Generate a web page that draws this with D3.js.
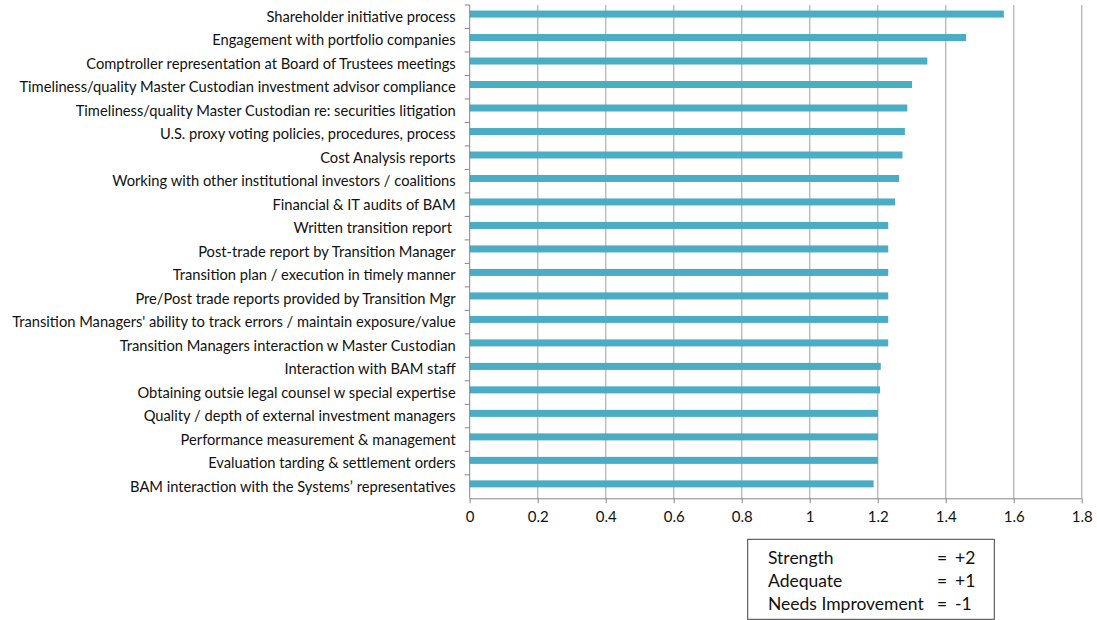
<!DOCTYPE html>
<html>
<head>
<meta charset="utf-8">
<script src="https://cdn.jsdelivr.net/npm/d3@7"></script>
<style>
  body { margin: 0; background: #fff; }
  text { font-family: Lato, "Open Sans", sans-serif; fill: #111; }
</style>
</head>
<body>
<script>
// categories top to bottom
let categories = [
  "Shareholder initiative process",
  "Engagement with portfolio companies",
  "Comptroller representation at Board of Trustees meetings",
  "Timeliness/quality Master Custodian investment advisor compliance",
  "Timeliness/quality Master Custodian re: securities litigation",
  "U.S. proxy voting policies, procedures, process",
  "Cost Analysis reports",
  "Working with other institutional investors / coalitions",
  "Financial & IT audits of BAM",
  "Written transition report ",
  "Post-trade report by Transition Manager",
  "Transition plan / execution in timely manner",
  "Pre/Post trade reports provided by Transition Mgr",
  "Transition Managers' ability to track errors / maintain exposure/value",
  "Transition Managers interaction w Master Custodian",
  "Interaction with BAM staff",
  "Obtaining outsie legal counsel w special expertise",
  "Quality / depth of external investment managers",
  "Performance measurement & management",
  "Evaluation tarding & settlement orders",
  "BAM interaction with the Systems\u2019 representatives"
];

let scores = [1.571, 1.460, 1.346, 1.301, 1.287, 1.280, 1.273, 1.263, 1.251, 1.231,
  1.231, 1.231, 1.231, 1.231, 1.231, 1.209, 1.207, 1.201, 1.201, 1.201, 1.188];

let xTicks = [0, 0.2, 0.4, 0.6, 0.8, 1, 1.2, 1.4, 1.6, 1.8];

let legendLabels = ["Strength", "Adequate", "Needs Improvement"];
let legendValues = ["+2", "+1", "-1"];

let width = 1097;
let height = 620;

let svg = d3.select("body").append("svg")
  .attr("width", width)
  .attr("height", height);

// plot area
let plotLeft = 469.7, plotRight = 1081.7, plotTop = 5, plotBottom = 498.3;

let x = d3.scaleLinear().domain([0, 1.8]).range([plotLeft, plotRight]);
let y = d3.scaleBand().domain(categories).range([plotTop, plotBottom]);

// vertical gridlines
svg.append("g")
  .selectAll("line")
  .data(xTicks.slice(1))
  .join("line")
  .attr("x1", d => x(d)).attr("x2", d => x(d))
  .attr("y1", plotTop).attr("y2", plotBottom)
  .attr("stroke", "#bdbdbd")
  .attr("stroke-width", 1.5);

// bars - excel puts them a bit above the band centre
let barH = 7;
svg.append("g")
  .selectAll("rect")
  .data(categories)
  .join("rect")
  .attr("x", x(0))
  .attr("y", d => y(d) + y.bandwidth() / 2 - 2.7 - barH / 2)
  .attr("width", (d, i) => x(scores[i]) - x(0))
  .attr("height", barH)
  .attr("fill", "#4bacc6");

// x axis
let xAxis = d3.axisBottom(x)
  .tickValues(xTicks)
  .tickSize(5)
  .tickPadding(8)
  .tickFormat(d => d3.format("")(d));
let xg = svg.append("g")
  .attr("transform", "translate(0," + plotBottom + ")")
  .call(xAxis);
xg.select(".domain").attr("stroke", "#868686").attr("d", "M" + plotLeft + ",0.5H" + plotRight);
xg.selectAll(".tick line").attr("stroke", "#868686");
xg.selectAll(".tick text").attr("font-size", 15).attr("fill", "#111")
  .attr("font-family", "Lato, sans-serif");

// y axis: line with ticks on the band boundaries
let yg = svg.append("g");
yg.append("line")
  .attr("x1", plotLeft).attr("x2", plotLeft)
  .attr("y1", plotTop).attr("y2", plotBottom)
  .attr("stroke", "#868686");
yg.selectAll(".btick")
  .data(categories)
  .join("line")
  .attr("class", "btick")
  .attr("x1", plotLeft - 5).attr("x2", plotLeft)
  .attr("y1", d => y(d)).attr("y2", d => y(d))
  .attr("stroke", "#868686");

yg.selectAll("text")
  .data(categories)
  .join("text")
  .attr("x", plotLeft - 14)
  .attr("y", d => y(d) + y.bandwidth() / 2)
  .attr("dy", "0.35em")
  .attr("text-anchor", "end")
  .attr("font-size", 14.7)
  .style("white-space", "pre")
  .text(d => d);

// note box with the scoring scale
let box = svg.append("g");
box.append("rect")
  .attr("x", 747.7).attr("y", 539.3)
  .attr("width", 246.6).attr("height", 80)
  .attr("fill", "none")
  .attr("stroke", "#404040");

let rowY = d3.scalePoint().domain(legendLabels).range([564, 610]);
box.selectAll(".lab")
  .data(legendLabels)
  .join("text")
  .attr("class", "lab")
  .attr("x", 768)
  .attr("y", d => rowY(d))
  .attr("font-size", 17.5)
  .text(d => d);
box.selectAll(".eq")
  .data(legendLabels)
  .join("text")
  .attr("class", "eq")
  .attr("x", 942)
  .attr("y", d => rowY(d))
  .attr("text-anchor", "middle")
  .attr("font-size", 17.5)
  .text("=");
box.selectAll(".val")
  .data(legendValues)
  .join("text")
  .attr("class", "val")
  .attr("x", 955)
  .attr("y", (d, i) => rowY(legendLabels[i]))
  .attr("font-size", 17.5)
  .text(d => d);
</script>
</body>
</html>
